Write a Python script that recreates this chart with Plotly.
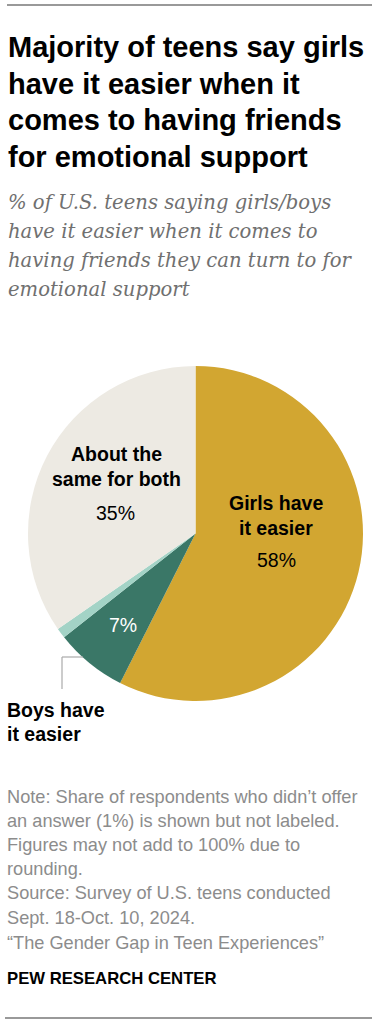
import plotly.graph_objects as go

# ---- data ----
categories = ["Girls have it easier", "Boys have it easier", "No answer", "About the same for both"]
values = [58, 7, 1, 35]
colors = ["#D2A631", "#3A7767", "#A3D3C6", "#EDEAE3"]

title_lines = ["Majority of teens say girls", "have it easier when it",
               "comes to having friends", "for emotional support"]
subtitle_lines = ["% of U.S. teens saying girls/boys", "have it easier when it comes to",
                  "having friends they can turn to for", "emotional support"]
note_lines = ["Note: Share of respondents who didn\u2019t offer",
              "an answer (1%) is shown but not labeled.",
              "Figures may not add to 100% due to",
              "rounding.",
              "Source: Survey of U.S. teens conducted",
              "Sept. 18-Oct. 10, 2024.",
              "\u201cThe Gender Gap in Teen Experiences\u201d"]
source_org = "PEW RESEARCH CENTER"

W, H = 372, 1024

def px(x):
    return x / W

def py(y):
    return 1 - y / H

fig = go.Figure()
fig.add_trace(go.Pie(
    labels=categories, values=values, sort=False, direction="clockwise", rotation=0,
    marker=dict(colors=colors, line=dict(width=0)), textinfo="none", hoverinfo="skip",
    showlegend=False,
    domain=dict(x=[px(28), px(363)], y=[py(701), py(366)]),
))

ann = []
SANS = "Liberation Sans, Arial, sans-serif"
SERIF = "DejaVu Serif, Georgia, serif"

def add(text, x, y, size, color="#000", bold=False, family=SANS, xanchor="left", italic=False):
    t = f"<b>{text}</b>" if bold else text
    if italic:
        t = f"<i>{t}</i>"
    ann.append(dict(text=t, x=px(x), y=py(y), xref="paper", yref="paper",
                    xanchor=xanchor, yanchor="middle", showarrow=False,
                    font=dict(size=size, color=color, family=family)))

for i, line in enumerate(title_lines):
    add(line, 6, [47, 84, 120, 157][i], 29, bold=True)
for i, line in enumerate(subtitle_lines):
    add(line, 6, [202, 231, 260, 289][i], 19.6, color="#707070", family=SERIF, italic=True)

pct = [f"{v}%" for v in values]
LS = 19.5
# Girls
add("Girls have", 276, 503, LS, bold=True, xanchor="center")
add("it easier", 276, 528, LS, bold=True, xanchor="center")
add(pct[0], 276, 560, LS, xanchor="center")
# Same
add("About the", 116, 454, LS, bold=True, xanchor="center")
add("same for both", 116, 479, LS, bold=True, xanchor="center")
add(pct[3], 115, 513, LS, xanchor="center")
# Boys
add(pct[1], 123, 625, LS, color="#FFFFFF", xanchor="center")
add("Boys have", 5, 710, LS, bold=True)
add("it easier", 5, 734, LS, bold=True)

note_y = [797, 821, 845, 869, 893, 918, 943]
for i, line in enumerate(note_lines):
    add(line, 5, note_y[i], 18.2, color="#8C8C8C")
add(source_org, 5, 978, 16.7, bold=True)

shapes = [
    dict(type="line", xref="paper", yref="paper", x0=px(7), x1=1, y0=py(5), y1=py(5),
         line=dict(color="#999999", width=2)),
    dict(type="line", xref="paper", yref="paper", x0=px(5), x1=1, y0=py(1018), y1=py(1018),
         line=dict(color="#999999", width=2)),
    dict(type="line", xref="paper", yref="paper", x0=px(62), x1=px(62), y0=py(657), y1=py(689),
         line=dict(color="#AAAAAA", width=1.2)),
    dict(type="line", xref="paper", yref="paper", x0=px(62), x1=px(83), y0=py(657), y1=py(657),
         line=dict(color="#AAAAAA", width=1.2)),
]

fig.update_layout(width=W, height=H, margin=dict(l=0, r=0, t=0, b=0),
                  paper_bgcolor="white", plot_bgcolor="white",
                  annotations=ann, shapes=shapes)
fig.write_html("out.html", config={"displayModeBar": False})

with open("out.html", encoding="utf-8") as f:
    html = f.read()
html = html.replace("<body>", '<body style="margin:0;padding:0;overflow:hidden">', 1)
with open("out.html", "w", encoding="utf-8") as f:
    f.write(html)
